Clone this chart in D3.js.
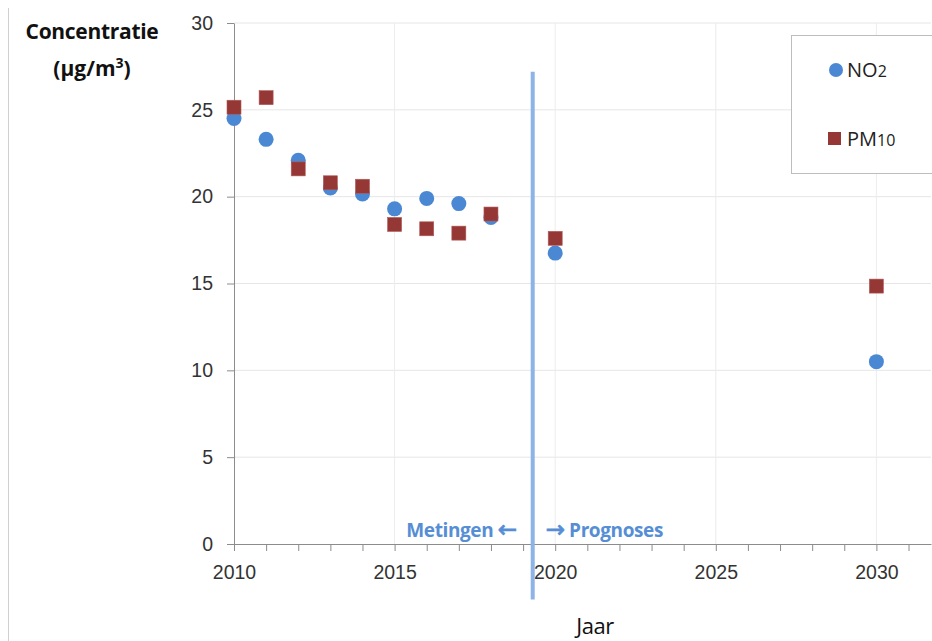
<!DOCTYPE html>
<html>
<head>
<meta charset="utf-8">
<script src="https://cdn.jsdelivr.net/npm/d3@7"></script>
<style>
    body { margin: 0; background: #fff; }
    svg { display: block; font-family: "Open Sans", "Noto Sans", sans-serif; }
    .tick text { fill: #333; }
    .arrow { font-family: "DejaVu Sans", sans-serif; font-weight: normal; font-size: 23px; stroke: #558ed5; stroke-width: 0.8; }
</style>
</head>
<body>
<div id="chart"></div>
<script>
"use strict";

// years and measured / forecast concentrations (µg/m³)
const years = [2010, 2011, 2012, 2013, 2014, 2015, 2016, 2017, 2018, 2020, 2030];
const no2 = [24.5, 23.3, 22.1, 20.5, 20.15, 19.3, 19.9, 19.6, 18.8, 16.75, 10.5];
const pm10 = [25.15, 25.7, 21.6, 20.8, 20.6, 18.4, 18.15, 17.9, 19.0, 17.6, 14.85];

const yTicks = [0, 5, 10, 15, 20, 25, 30];
const xLabels = [2010, 2015, 2020, 2025, 2030];
const xMinor = d3.range(2010, 2032);

// the line between measurements and forecasts
const splitYear = 2019.3;
const splitRange = [-3.2, 27.2];

const width = 932, height = 641;
const svg = d3.select("#chart").append("svg")
    .attr("width", width)
    .attr("height", height);

const x = d3.scaleLinear().domain([2010, 2031.7]).range([234, 931]);
const y = d3.scaleLinear().domain([0, 30]).range([544, 23]);

// gridlines
svg.append("g").selectAll("line").data(yTicks.slice(1)).join("line")
    .attr("x1", x(2010)).attr("x2", x.range()[1])
    .attr("y1", d => y(d)).attr("y2", d => y(d))
    .attr("stroke", "#e6e6e6");
svg.append("g").selectAll("line").data(xLabels.slice(1)).join("line")
    .attr("x1", d => x(d)).attr("x2", d => x(d))
    .attr("y1", y(30)).attr("y2", y(0))
    .attr("stroke", "#ececec");

// image border at the left
svg.append("line").attr("x1", 8.5).attr("x2", 8.5).attr("y1", 8).attr("y2", height)
    .attr("stroke", "#d0d0d0");

// x axis: minor ticks every year, labels every 5
const xAxis = svg.append("g").attr("transform", `translate(0,${y(0)})`)
    .call(d3.axisBottom(x).tickValues(xMinor).tickSize(7).tickSizeOuter(0)
        .tickFormat(d => xLabels.includes(d) ? d : ""));
xAxis.select(".domain").attr("stroke", "#8c8c8c");
xAxis.selectAll(".tick line").attr("stroke", "#8c8c8c");
xAxis.selectAll(".tick text").attr("font-size", 19.5).attr("dy", "1.3em");

const yAxis = svg.append("g").attr("transform", `translate(${x(2010)},0)`)
    .call(d3.axisLeft(y).tickValues(yTicks).tickSize(7).tickSizeOuter(0));
yAxis.select(".domain").attr("stroke", "#8c8c8c");
yAxis.selectAll(".tick line").attr("stroke", "#8c8c8c");
yAxis.selectAll(".tick text").attr("font-size", 19.5).attr("x", -21);

// axis titles
svg.append("text").attr("x", 92).attr("y", 39).attr("text-anchor", "middle")
    .attr("font-size", 21).attr("font-weight", "bold").attr("fill", "#111")
    .attr("letter-spacing", "-0.3").text("Concentratie");
const unit = svg.append("text").attr("x", 92).attr("y", 76).attr("text-anchor", "middle")
    .attr("font-size", 21).attr("font-weight", "bold").attr("fill", "#111");
unit.append("tspan").text("(µg/m");
unit.append("tspan").attr("font-size", 14).attr("dy", -8).text("3");
unit.append("tspan").attr("dy", 8).text(")");

svg.append("text").attr("x", 595).attr("y", 634).attr("text-anchor", "middle")
    .attr("font-size", 22).attr("fill", "#111").attr("letter-spacing", "-0.5")
    .text("Jaar");

// split line and its labels
svg.append("line")
    .attr("x1", x(splitYear)).attr("x2", x(splitYear))
    .attr("y1", y(splitRange[1])).attr("y2", y(splitRange[0]))
    .attr("stroke", "#8db4e6").attr("stroke-width", 4);
const left = svg.append("text").attr("x", x(splitYear) - 16).attr("y", y(0) - 7)
    .attr("text-anchor", "end").attr("font-size", 19).attr("font-weight", "bold")
    .attr("fill", "#558ed5").attr("letter-spacing", "-0.4");
left.append("tspan").text("Metingen ");
left.append("tspan").attr("class", "arrow").text("←");
const right = svg.append("text").attr("x", x(splitYear) + 13).attr("y", y(0) - 7)
    .attr("text-anchor", "start").attr("font-size", 19).attr("font-weight", "bold")
    .attr("fill", "#558ed5").attr("letter-spacing", "-0.4");
right.append("tspan").attr("class", "arrow").text("→");
right.append("tspan").text(" Prognoses");

// markers
const sq = 14;
svg.append("g").selectAll("circle").data(years).join("circle")
    .attr("cx", d => x(d)).attr("cy", (d, i) => y(no2[i])).attr("r", 7.5)
    .attr("fill", "#4a88d4");
svg.append("g").selectAll("rect").data(years).join("rect")
    .attr("x", d => x(d) - sq / 2).attr("y", (d, i) => y(pm10[i]) - sq / 2)
    .attr("width", sq).attr("height", sq)
    .attr("fill", "#953735").attr("stroke", "#b05a58").attr("stroke-width", 0.6);

// legend
const legend = svg.append("g");
legend.append("rect").attr("x", 791.5).attr("y", 35.5).attr("width", 150).attr("height", 138)
    .attr("fill", "#fff").attr("stroke", "#bdbdbd");
legend.append("circle").attr("cx", 836).attr("cy", 70).attr("r", 7).attr("fill", "#4a88d4");
const t1 = legend.append("text").attr("x", 847).attr("y", 77).attr("font-size", 20).attr("fill", "#222");
t1.append("tspan").text("NO");
t1.append("tspan").attr("font-size", 16).text("2");
legend.append("rect").attr("x", 828).attr("y", 132).attr("width", 13).attr("height", 13)
    .attr("fill", "#953735");
const t2 = legend.append("text").attr("x", 847).attr("y", 146).attr("font-size", 20).attr("fill", "#222");
t2.append("tspan").text("PM");
t2.append("tspan").attr("font-size", 16).text("10");
</script>
</body>
</html>
